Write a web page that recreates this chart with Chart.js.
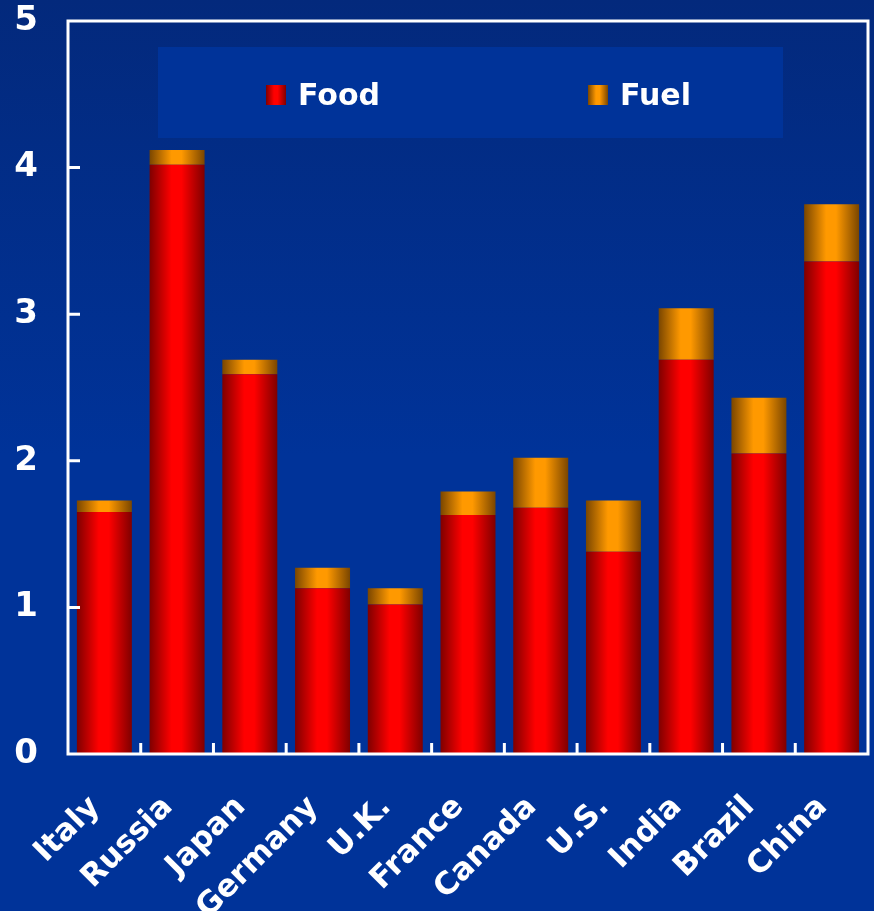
<!DOCTYPE html>
<html>
<head>
<meta charset="utf-8">
<script src="https://cdn.jsdelivr.net/npm/chart.js@4"></script>
<style>
  body { margin: 0; background: #003399; }
  canvas { display: block; }
</style>
</head>
<body>
<canvas id="chart" width="874" height="911"></canvas>
<script>
// values
const categories = ['Italy', 'Russia', 'Japan', 'Germany', 'U.K.', 'France', 'Canada', 'U.S.', 'India', 'Brazil', 'China'];
const foodValues = [1.65, 4.02, 2.59, 1.13, 1.02, 1.63, 1.68, 1.38, 2.69, 2.05, 3.36];
const fuelValues = [0.08, 0.10, 0.10, 0.14, 0.11, 0.16, 0.34, 0.35, 0.35, 0.38, 0.39];
const yTicks = [0, 1, 2, 3, 4, 5];

const FONT = '"DejaVu Sans", Verdana, sans-serif';
const BAR_FRACTION = 0.756;

function shade(g, dark, bright) {
  g.addColorStop(0, dark);
  g.addColorStop(0.4, bright);
  g.addColorStop(0.58, bright);
  g.addColorStop(1, dark);
  return g;
}

// horizontal "cylinder" shading for each bar
function barFill(dark, bright) {
  return function (ctx) {
    const chart = ctx.chart;
    const x = chart.scales.x;
    if (!x || ctx.type !== 'data') return bright;
    const cx = x.getPixelForValue(ctx.dataIndex);
    const w = (x.width / categories.length) * BAR_FRACTION;
    if (!isFinite(cx) || !isFinite(w) || w <= 0) return bright;
    return shade(chart.ctx.createLinearGradient(cx - w / 2, 0, cx + w / 2, 0), dark, bright);
  };
}

const background = {
  id: 'background',
  beforeDraw(chart) {
    const c = chart.ctx;
    const g = c.createLinearGradient(0, 0, 0, chart.height);
    g.addColorStop(0, '#03297c');
    g.addColorStop(0.5, '#003399');
    g.addColorStop(1, '#003399');
    c.save();
    c.fillStyle = g;
    c.fillRect(0, 0, chart.width, chart.height);
    // legend panel
    c.fillStyle = '#003399';
    c.fillRect(158, 47, 625, 91);
    c.restore();
  }
};

const frame = {
  id: 'frame',
  afterDatasetsDraw(chart) {
    const c = chart.ctx;
    const a = chart.chartArea;
    const x = chart.scales.x;
    const y = chart.scales.y;
    c.save();
    c.strokeStyle = '#ffffff';
    c.lineWidth = 3;
    c.strokeRect(a.left, a.top, a.right - a.left, a.bottom - a.top);
    c.beginPath();
    yTicks.slice(1, -1).forEach(v => {
      const py = y.getPixelForValue(v);
      c.moveTo(a.left, py);
      c.lineTo(a.left + 12, py);
    });
    for (let i = 0; i < categories.length - 1; i++) {
      const px = (x.getPixelForValue(i) + x.getPixelForValue(i + 1)) / 2;
      c.moveTo(px, a.bottom);
      c.lineTo(px, a.bottom - 11);
    }
    c.stroke();

    // legend
    c.font = 'bold 30px ' + FONT;
    c.textBaseline = 'middle';
    const items = [
      { label: chart.data.datasets[0].label, x: 266, dark: '#7f0000', bright: '#ff0000' },
      { label: chart.data.datasets[1].label, x: 588, dark: '#7a4600', bright: '#ff9900' }
    ];
    items.forEach(it => {
      c.fillStyle = shade(c.createLinearGradient(it.x, 0, it.x + 20, 0), it.dark, it.bright);
      c.fillRect(it.x, 85, 20, 20);
      c.fillStyle = '#ffffff';
      c.fillText(it.label, it.x + 32, 97);
    });
    c.restore();
  }
};

new Chart(document.getElementById('chart').getContext('2d'), {
  type: 'bar',
  data: {
    labels: categories,
    datasets: [
      {
        label: 'Food',
        data: foodValues,
        backgroundColor: barFill('#7f0000', '#ff0000'),
        borderWidth: 0,
        barPercentage: BAR_FRACTION,
        categoryPercentage: 1
      },
      {
        label: 'Fuel',
        data: fuelValues,
        backgroundColor: barFill('#7a4600', '#ff9900'),
        borderWidth: 0,
        barPercentage: BAR_FRACTION,
        categoryPercentage: 1
      }
    ]
  },
  options: {
    responsive: false,
    animation: false,
    layout: { padding: { top: 21, right: 6, left: 0, bottom: 0 } },
    plugins: {
      legend: { display: false },
      tooltip: { enabled: false }
    },
    scales: {
      x: {
        stacked: true,
        grid: { display: false, drawTicks: false },
        border: { display: false },
        ticks: {
          color: '#ffffff',
          font: { family: FONT, size: 31, weight: 'bold' },
          minRotation: 45,
          maxRotation: 45,
          autoSkip: false,
          labelOffset: -9,
          padding: 35
        },
        afterFit(scale) {
          scale.height = 157;
          scale.paddingLeft = 0;
          scale.paddingRight = 0;
        }
      },
      y: {
        stacked: true,
        min: 0,
        max: 5,
        grid: { display: false, drawTicks: false },
        border: { display: false },
        ticks: {
          stepSize: 1,
          color: '#ffffff',
          font: { family: FONT, size: 34, weight: 'bold' },
          padding: 30
        },
        afterFit(scale) {
          scale.width = 68;
          scale.paddingTop = 0;
          scale.paddingBottom = 0;
        }
      }
    }
  },
  plugins: [background, frame]
});
</script>
</body>
</html>
